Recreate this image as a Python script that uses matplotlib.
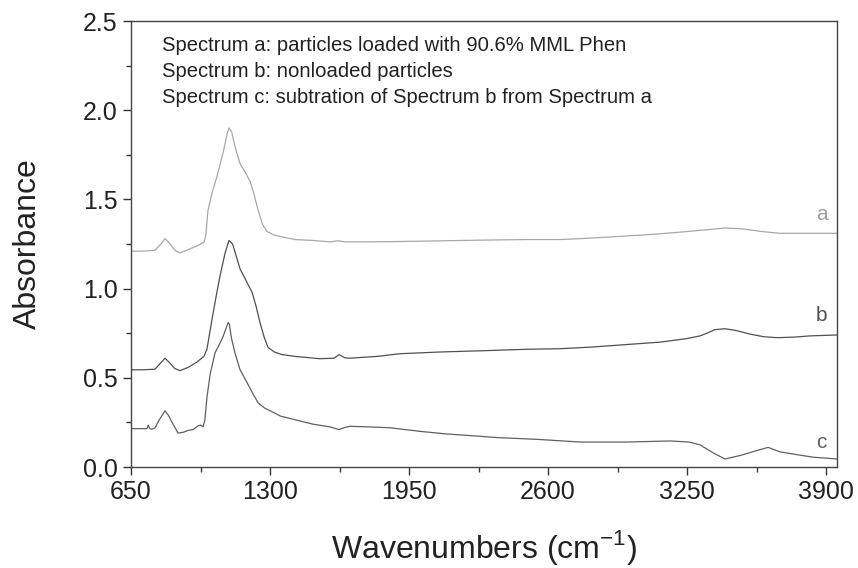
import matplotlib.pyplot as plt
from matplotlib.ticker import MultipleLocator

plt.rcParams['font.family'] = ['Liberation Sans', 'DejaVu Sans']

# spectrum a: particles loaded with MML Phen
wn_a = [650, 700, 762, 790, 809, 830, 855, 879, 920, 960, 991, 1000, 1010, 1030,
        1052, 1080, 1100, 1108, 1120, 1140, 1160, 1185, 1207, 1225, 1244, 1265,
        1286, 1320, 1356, 1417, 1500, 1580, 1618, 1650, 1750, 1908, 2100, 2300,
        2500, 2656, 2750, 2900, 3100, 3250, 3343, 3427, 3507, 3600, 3685, 3800, 3950]
abs_a = [1.21, 1.21, 1.215, 1.25, 1.28, 1.255, 1.215, 1.20, 1.22, 1.24, 1.26, 1.30,
         1.44, 1.54, 1.63, 1.76, 1.87, 1.90, 1.88, 1.78, 1.70, 1.65, 1.60, 1.53,
         1.44, 1.36, 1.32, 1.30, 1.29, 1.275, 1.27, 1.262, 1.268, 1.262, 1.262,
         1.264, 1.268, 1.272, 1.275, 1.275, 1.28, 1.29, 1.305, 1.32, 1.33, 1.34,
         1.335, 1.32, 1.31, 1.31, 1.31]

# spectrum b: nonloaded particles
wn_b = [650, 700, 762, 790, 809, 830, 855, 879, 920, 960, 991, 1005, 1029, 1050,
        1066, 1090, 1108, 1125, 1145, 1160, 1190, 1216, 1235, 1253, 1272, 1291,
        1320, 1356, 1417, 1534, 1600, 1623, 1650, 1674, 1800, 1908, 2100, 2300,
        2500, 2656, 2800, 2950, 3124, 3250, 3311, 3343, 3380, 3427, 3480, 3544,
        3610, 3671, 3750, 3825, 3950]
abs_b = [0.545, 0.545, 0.548, 0.585, 0.61, 0.585, 0.552, 0.54, 0.56, 0.59, 0.62,
         0.66, 0.83, 0.97, 1.07, 1.20, 1.27, 1.25, 1.17, 1.11, 1.04, 0.98, 0.90,
         0.81, 0.73, 0.67, 0.645, 0.63, 0.62, 0.607, 0.61, 0.63, 0.612, 0.61,
         0.62, 0.635, 0.645, 0.652, 0.66, 0.663, 0.672, 0.685, 0.70, 0.72, 0.735,
         0.75, 0.77, 0.775, 0.765, 0.745, 0.73, 0.725, 0.728, 0.735, 0.74]

# spectrum c: a minus b
wn_c = [650, 725, 730, 738, 748, 762, 785, 809, 825, 842, 870, 895, 917, 940, 963,
        975, 987, 995, 1005, 1020, 1043, 1060, 1080, 1095, 1104, 1110, 1120, 1136,
        1160, 1185, 1216, 1244, 1275, 1309, 1350, 1417, 1501, 1580, 1623, 1650,
        1674, 1760, 1861, 2000, 2128, 2250, 2361, 2550, 2750, 2969, 3170, 3260,
        3311, 3371, 3427, 3500, 3570, 3629, 3685, 3760, 3839, 3950]
abs_c = [0.215, 0.215, 0.235, 0.215, 0.212, 0.22, 0.27, 0.315, 0.29, 0.25, 0.19,
         0.195, 0.205, 0.21, 0.23, 0.235, 0.225, 0.26, 0.39, 0.52, 0.64, 0.68,
         0.73, 0.78, 0.81, 0.80, 0.72, 0.64, 0.545, 0.49, 0.42, 0.36, 0.33, 0.31,
         0.285, 0.265, 0.24, 0.225, 0.21, 0.222, 0.228, 0.225, 0.22, 0.20, 0.185,
         0.175, 0.165, 0.155, 0.14, 0.14, 0.146, 0.14, 0.124, 0.08, 0.045, 0.065,
         0.09, 0.11, 0.085, 0.07, 0.055, 0.045]

xticks = [650, 1300, 1950, 2600, 3250, 3900]
yticks = [0.0, 0.5, 1.0, 1.5, 2.0, 2.5]
notes = ["Spectrum a: particles loaded with 90.6% MML Phen",
         "Spectrum b: nonloaded particles",
         "Spectrum c: subtration of Spectrum b from Spectrum a"]

fig = plt.figure(figsize=(8.58, 5.68), dpi=100)
ax = fig.add_axes([0.1527, 0.1778, 0.8228, 0.7852])

ax.plot(wn_a, abs_a, color='#a8a8a8', lw=0.9)
ax.plot(wn_b, abs_b, color='#505050', lw=0.9)
ax.plot(wn_c, abs_c, color='#606060', lw=0.9)

ax.text(3880, 1.415, 'a', color='#a0a0a0', fontsize=15, ha='center', va='center')
ax.text(3880, 0.85, 'b', color='#505050', fontsize=15, ha='center', va='center')
ax.text(3880, 0.14, 'c', color='#606060', fontsize=15, ha='center', va='center')

for i, line in enumerate(notes):
    ax.text(0.044, 0.945 - i * 0.0585, line, transform=ax.transAxes,
            fontsize=14.6, color='#222222', va='center', ha='left')

ax.set_xlim(650, 3951)
ax.set_ylim(0, 2.5)
ax.set_xticks(xticks)
ax.set_yticks(yticks)
ax.set_yticklabels([f'{v:.1f}' for v in yticks])
ax.xaxis.set_minor_locator(MultipleLocator(325))
ax.yaxis.set_minor_locator(MultipleLocator(0.25))
ax.tick_params(which='major', direction='out', length=6, width=1, colors='#333333',
               labelsize=18, labelcolor='#222222')
ax.tick_params(which='minor', direction='out', length=3.5, width=1, colors='#333333')
ax.tick_params(top=False, right=False, which='both')

for s in ax.spines.values():
    s.set_color('#444444')
    s.set_linewidth(1.0)

ax.set_xlabel('Wavenumbers (cm$^{\\mathregular{-1}}$)', fontsize=23, color='#222222',
              labelpad=17)
ax.set_ylabel('Absorbance', fontsize=23, color='#222222', labelpad=29)

fig.savefig('out.png', dpi=100, facecolor='white')
